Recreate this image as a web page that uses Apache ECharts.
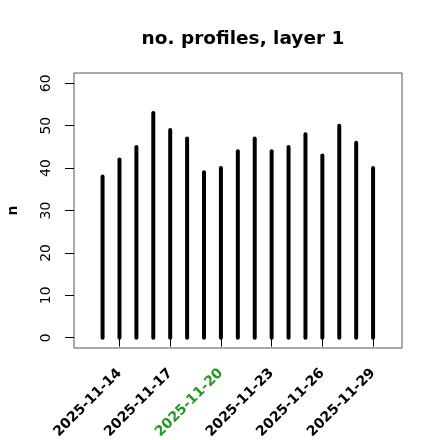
<!DOCTYPE html>
<html>
<head>
<meta charset="utf-8">
<script src="https://cdn.jsdelivr.net/npm/echarts@6/dist/echarts.min.js"></script>
<style>
html,body{margin:0;padding:0;background:#fff;}
#chart{width:440px;height:440px;}
</style>
</head>
<body>
<div id="chart"></div>
<script>
// ---- data ----
const titleText = 'no. profiles, layer 1';
const yName = 'n';
const dates = ['2025-11-13','2025-11-14','2025-11-15','2025-11-16','2025-11-17','2025-11-18','2025-11-19','2025-11-20','2025-11-21','2025-11-22','2025-11-23','2025-11-24','2025-11-25','2025-11-26','2025-11-27','2025-11-28','2025-11-29'];
const counts = [38,42,45,53,49,47,39,40,44,47,44,45,48,43,50,46,40];
const yTicks = [0,10,20,30,40,50,60];
const xTickDates = ['2025-11-14','2025-11-17','2025-11-20','2025-11-23','2025-11-26','2025-11-29'];
const highlightDates = ['2025-11-20'];

// ---- helpers ----
const DAY = 86400000;
const dayNum = d => Date.parse(d + 'T00:00:00Z') / DAY;
const dayStr = n => new Date(Math.round(n) * DAY).toISOString().slice(0, 10);
const FONT = 'DejaVu Sans';

const xVals = dates.map(dayNum);
const xMin = xVals[0] - 1.69;
const xMax = xVals[xVals.length - 1] + 1.71;

const chart = echarts.init(document.getElementById('chart'), null, {renderer: 'canvas'});
chart.setOption({
  backgroundColor: '#fff',
  animation: false,
  title: {
    text: titleText,
    left: 238,
    top: 25,
    textAlign: 'center',
    textStyle: {fontFamily: FONT, fontWeight: 'bold', fontSize: 18.5, color: '#000'}
  },
  grid: {
    left: 74, right: 38, top: 73, bottom: 92,
    show: true, borderColor: '#555', borderWidth: 1,
    backgroundColor: 'transparent',
    outerBoundsMode: 'none', containLabel: false
  },
  xAxis: {
    type: 'value',
    min: xMin, max: xMax,
    axisLine: {show: false},
    splitLine: {show: false},
    axisTick: {show: true, customValues: xTickDates.map(dayNum), length: 9, lineStyle: {color: '#000', width: 1}},
    axisLabel: {
      customValues: xTickDates.map(dayNum),
      rotate: 45,
      margin: 23,
      fontFamily: FONT, fontWeight: 'bold', fontSize: 14,
      formatter: v => dayStr(v),
      color: v => highlightDates.indexOf(dayStr(v)) >= 0 ? '#229922' : '#000'
    }
  },
  yAxis: {
    type: 'value',
    min: -2.43, max: 62.43,
    name: yName,
    nameLocation: 'middle',
    nameRotate: 90,
    nameGap: 54,
    nameTextStyle: {fontFamily: FONT, fontWeight: 'bold', fontSize: 14, color: '#000'},
    axisLine: {show: false},
    splitLine: {show: false},
    axisTick: {show: true, customValues: yTicks, length: 9, lineStyle: {color: '#000', width: 1}},
    axisLabel: {
      customValues: yTicks,
      rotate: 90,
      margin: 21,
      fontFamily: FONT, fontSize: 14, color: '#000'
    }
  },
  series: [{
    type: 'custom',
    clip: false,
    data: xVals.map((x, i) => [x, counts[i]]),
    renderItem: function (params, api) {
      const x = api.value(0), y = api.value(1);
      const p0 = api.coord([x, 0]);
      const p1 = api.coord([x, y]);
      return {
        type: 'line',
        shape: {x1: p0[0], y1: p0[1], x2: p1[0], y2: p1[1]},
        style: {stroke: '#000', lineWidth: 4, lineCap: 'round'}
      };
    }
  }]
});
</script>
</body>
</html>
